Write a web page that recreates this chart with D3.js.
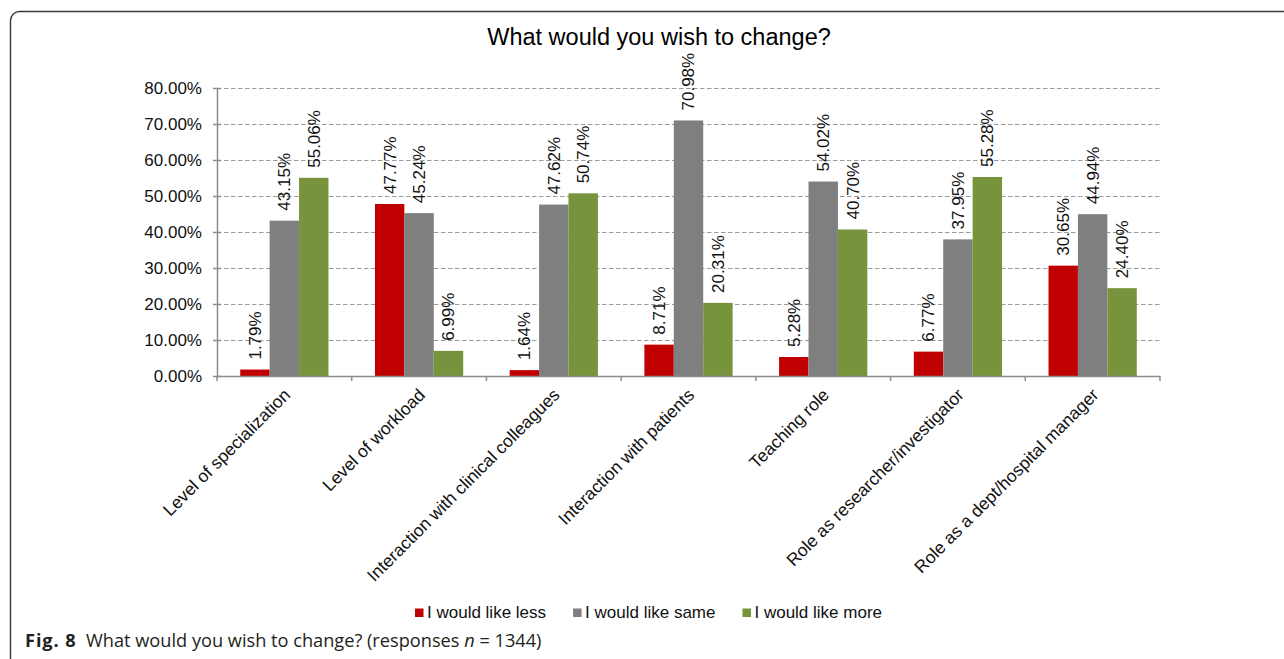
<!DOCTYPE html>
<html>
<head>
<meta charset="utf-8">
<script src="https://cdn.jsdelivr.net/npm/d3@7"></script>
<style>
  body { margin: 0; background: #fff; }
  svg { display: block; font-family: "Liberation Sans", Arial, sans-serif; }
  .grid line { stroke: #9a9a9a; stroke-dasharray: 4.5 2.5; }
  .axis path, .axis line { stroke: #8c8c8c; stroke-width: 1.5; }
  .axis text { font-size: 17px; fill: #111; }
  .value { font-size: 17px; fill: #111; }
  .cat { font-size: 17.5px; fill: #111; }
  .legend text { font-size: 17px; fill: #111; }
  .caption { font-family: "Open Sans", "Noto Sans", sans-serif; font-size: 18.2px; fill: #231f20; }
</style>
</head>
<body>
<svg width="1284" height="659"></svg>
<script>
const categories = [
  "Level of specialization",
  "Level of workload",
  "Interaction with clinical colleagues",
  "Interaction with patients",
  "Teaching role",
  "Role as researcher/investigator",
  "Role as a dept/hospital manager"
];
const seriesNames = ["I would like less", "I would like same", "I would like more"];
const seriesColors = ["#c00000", "#7f7f7f", "#77933c"];

const less = [1.79, 47.77, 1.64, 8.71, 5.28, 6.77, 30.65];
const same = [43.15, 45.24, 47.62, 70.98, 54.02, 37.95, 44.94];
const more = [55.06, 6.99, 50.74, 20.31, 40.70, 55.28, 24.40];

const yTicks = [0, 10, 20, 30, 40, 50, 60, 70, 80];

const svg = d3.select("svg");
const plotLeft = 217, plotRight = 1160, plotTop = 88, plotBottom = 376;

const rows = categories.map((c, i) => ({ cat: c, vals: [less[i], same[i], more[i]] }));

// frame round the figure, open to the right and bottom
svg.append("rect")
  .attr("x", 10.5).attr("y", 11.5)
  .attr("width", 1500).attr("height", 900)
  .attr("rx", 9)
  .attr("fill", "none")
  .attr("stroke", "#3a3a3a")
  .attr("stroke-width", 1.4);

svg.append("text")
  .attr("x", 659).attr("y", 45)
  .attr("text-anchor", "middle")
  .style("font-size", "23.5px")
  .style("fill", "#000")
  .text("What would you wish to change?");

const x0 = d3.scaleBand()
  .domain(categories)
  .range([plotLeft, plotRight]);

const bw = x0.bandwidth();
const x1 = d3.scaleBand()
  .domain(seriesNames)
  .range([bw * 0.1725, bw * 0.8275]);

const y = d3.scaleLinear()
  .domain([0, 80])
  .range([plotBottom, plotTop]);

// dashed gridlines
svg.append("g")
  .attr("class", "grid")
  .selectAll("line")
  .data(yTicks.filter(d => d > 0))
  .enter().append("line")
    .attr("x1", plotLeft).attr("x2", plotRight)
    .attr("y1", d => y(d) + 0.5).attr("y2", d => y(d) + 0.5);

// y axis with ticks crossing the line
svg.append("g")
  .attr("class", "axis")
  .attr("transform", `translate(${plotLeft},0)`)
  .call(d3.axisLeft(y).tickValues(yTicks).tickSize(4).tickPadding(11)
    .tickFormat(d => d.toFixed(2) + "%"))
  .call(g => g.selectAll(".tick line").attr("x1", 4))
  .call(g => g.select(".domain").attr("d", `M0.5,${plotTop}V${plotBottom}`))
  .call(g => g.attr("font-family", null).attr("font-size", null));

// bars
const group = svg.append("g")
  .selectAll("g")
  .data(rows)
  .enter().append("g")
    .attr("transform", d => `translate(${x0(d.cat)},0)`);

group.selectAll("rect")
  .data(d => d.vals.map((v, k) => ({ v, k })))
  .enter().append("rect")
    .attr("x", d => x1(seriesNames[d.k]))
    .attr("y", d => y(d.v))
    .attr("width", x1.bandwidth())
    .attr("height", d => plotBottom - y(d.v))
    .attr("fill", d => seriesColors[d.k]);

group.selectAll("text")
  .data(d => d.vals.map((v, k) => ({ v, k })))
  .enter().append("text")
    .attr("class", "value")
    .attr("transform", d => `translate(${x1(seriesNames[d.k]) + x1.bandwidth() / 2},${y(d.v) - 10}) rotate(-90)`)
    .attr("dy", "0.35em")
    .text(d => d.v.toFixed(2) + "%");

// x axis line with ticks between groups
const xAxis = svg.append("g").attr("class", "axis");
xAxis.append("path")
  .attr("d", `M${plotLeft},${plotBottom + 0.5}H${plotRight}`);
xAxis.selectAll("line")
  .data(categories.concat([null]))
  .enter().append("line")
    .attr("x1", (d, i) => plotLeft + i * bw).attr("x2", (d, i) => plotLeft + i * bw)
    .attr("y1", plotBottom).attr("y2", plotBottom + 5);

// category labels at 45 degrees
svg.append("g")
  .selectAll("text")
  .data(categories)
  .enter().append("text")
    .attr("class", "cat")
    .attr("text-anchor", "end")
    .attr("transform", d => `translate(${x0(d) + bw / 2 + 7},${plotBottom + 20}) rotate(-45)`)
    .text(d => d);

// legend
const legend = svg.append("g").attr("class", "legend");
let lx = 415;
seriesNames.forEach((name, k) => {
  legend.append("rect")
    .attr("x", lx).attr("y", 608.5)
    .attr("width", 8.5).attr("height", 8.5)
    .attr("fill", seriesColors[k]);
  const t = legend.append("text")
    .attr("x", lx + 12).attr("y", 617.5)
    .text(name);
  lx += 12 + t.node().getComputedTextLength() + 27;
});

// figure caption
const cap = svg.append("text")
  .attr("class", "caption")
  .attr("x", 25).attr("y", 646.5);
cap.append("tspan")
  .style("font-weight", "bold")
  .style("letter-spacing", "0.9px")
  .text("Fig. 8");
cap.append("tspan").attr("x", 86).text("What would you wish to change? (responses ");
cap.append("tspan").style("font-style", "italic").text("n");
cap.append("tspan").text(" = 1344)");
</script>
</body>
</html>
